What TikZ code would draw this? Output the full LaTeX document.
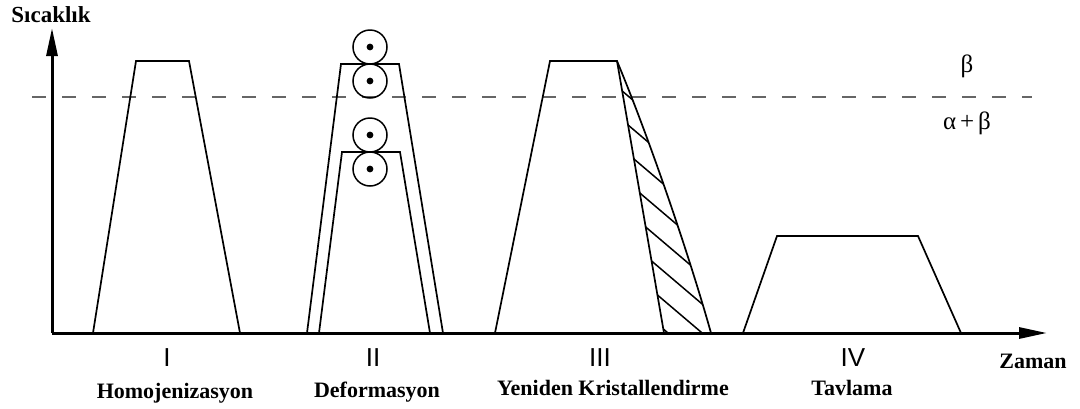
\documentclass[tikz,border=0pt]{standalone}
\usepackage{fontspec}
\setmainfont{Liberation Serif}
\newfontfamily\numfont{Liberation Sans}
\usetikzlibrary{arrows.meta}

\begin{document}
\begin{tikzpicture}[x=1pt,y=-1pt,
  profile/.style={line width=1.7pt, line join=miter},
  axisline/.style={line width=3pt, -{Triangle[length=28pt,width=11pt]}},
  phaseline/.style={line width=2.2pt, color=black!60, dash pattern=on 14pt off 16pt},
  hatchline/.style={line width=1.5pt},
  roll/.style={circle, draw, line width=1.5pt, minimum size=34pt, inner sep=0pt,
    path picture={\fill (path picture bounding box.center) circle (3.4pt);}},
  stagenum/.style={anchor=base, inner sep=0pt, font=\numfont\fontsize{26}{30}\selectfont},
  stagename/.style={anchor=base, inner sep=0pt, font=\bfseries\fontsize{22}{26}\selectfont},
  phase/.style={anchor=base, inner sep=0pt, font=\fontsize{25}{30}\selectfont}
]
\useasboundingbox (0,0) rectangle (1080,408);

% beta transus
\coordinate (tL) at (32,97);
\coordinate (tR) at (1032,97);
\draw[phaseline] (tL) -- (tR);

% axes
\coordinate (O) at (52,333);
\coordinate (ytop) at (52,28);
\coordinate (xend) at (1047,333);
\draw[axisline] (O) -- (ytop);
\draw[axisline] (O) -- (xend);

% I: homogenisation
\draw[profile] (93,333) -- (136,61) -- (189,61) -- (240,333);

% II: deformation, two passes
\draw[profile] (307,333) -- (341,64) -- (399,64) -- (443,333);
\draw[profile] (319,333) -- (342,152) -- (400,152) -- (430,333);
\node[roll] (r1) at (370,47) {};
\node[roll] (r2) at (370,81) {};
\node[roll] (r3) at (370,135) {};
\node[roll] (r4) at (370,169) {};

% III: recrystallisation with hatched cooling band
\coordinate (c1) at (495,333);
\coordinate (c2) at (550,61);
\coordinate (c3) at (617,61);
\coordinate (c4) at (664,333);
\coordinate (c5) at (711,333);
\draw[profile] (c1) -- (c2) -- (c3) -- (c4);
\draw[profile] (c3) .. controls (650,140) and (690,258) .. (c5);
\begin{scope}
  \clip (c3) -- (c4) -- (c5) .. controls (690,258) and (650,140) .. (c3) -- cycle;
  \foreach \yy in {91,125,159,193,227,261,295,329} {
    \draw[hatchline] ({617+47*(\yy-61)/272-10},{\yy-8.5}) -- ++(90,76.5);
  }
\end{scope}

% IV: annealing
\draw[profile] (743,333) -- (777,236) -- (918,236) -- (961,333);

% phase labels
\node[phase] (beta) at (967,72.5) {β};
\node[phase] (albe) at (967,129.5) {α\hspace{4pt}+\hspace{4pt}β};

% axis titles
\node[stagename, font=\bfseries\fontsize{23}{27}\selectfont] (ylab) at (51,22) {Sıcaklık};
\node[stagename] (xlab) at (1033,368) {Zaman};

% stage numbers and names
\node[stagenum] (s1) at (167,366) {I};
\node[stagenum] (s2) at (373,366) {II};
\node[stagenum] (s3) at (600,366) {III};
\node[stagenum] (s4) at (853,366) {IV};
\node[stagename] (l1) at (175,398) {Homojenizasyon};
\node[stagename] (l2) at (377,397) {Deformasyon};
\node[stagename] (l3) at (613,395) {Yeniden Kristallendirme};
\node[stagename] (l4) at (852,395) {Tavlama};
\end{tikzpicture}
\end{document}
